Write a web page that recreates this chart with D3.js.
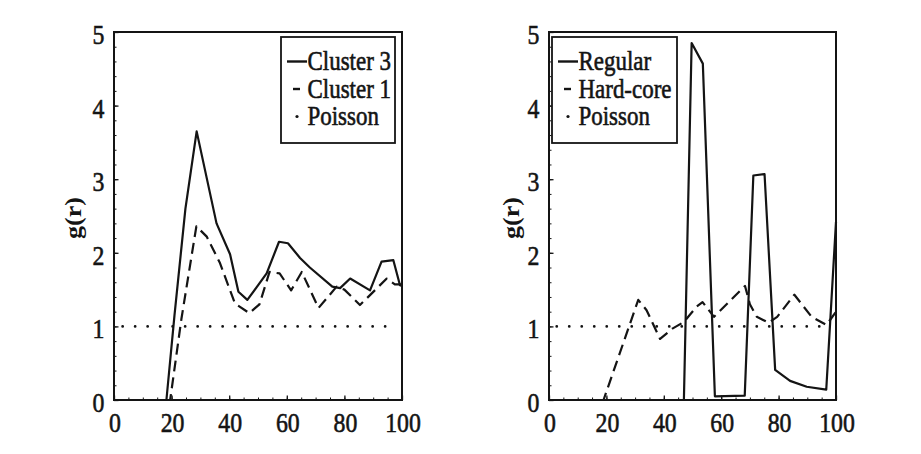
<!DOCTYPE html>
<html><head><meta charset="utf-8">
<script src="https://cdn.jsdelivr.net/npm/d3@7"></script>
<style>body{margin:0;background:#fff}svg{display:block}</style>
</head><body><svg id="c" width="921" height="454"></svg>
<script>
// ---- data ----
const xTicks = [0, 20, 40, 60, 80, 100];
const yTicks = [0, 1, 2, 3, 4, 5];

const cluster3R = [0, 18.2, 21, 24.8, 28.7, 35.6, 40.3, 43.2, 46.3, 53, 57.3, 60.4, 64.6, 68, 75.8, 78.5, 82, 88.9, 92.9, 97, 99.3, 100];
const cluster3G = [0, 0, 1.15, 2.6, 3.65, 2.4, 1.98, 1.47, 1.36, 1.72, 2.15, 2.13, 1.93, 1.8, 1.54, 1.52, 1.65, 1.49, 1.88, 1.9, 1.56, 1.55];

const cluster1R = [0, 19.5, 23.4, 28.6, 32.2, 36.8, 42, 47, 50.5, 54, 57.5, 61.5, 65.2, 71, 77.3, 80, 85.4, 94.7, 97.5, 100];
const cluster1G = [0, 0, 1.1, 2.36, 2.22, 1.86, 1.31, 1.18, 1.3, 1.74, 1.72, 1.49, 1.74, 1.25, 1.54, 1.5, 1.29, 1.65, 1.57, 1.57];

const poissonLeftR = [3, 97];
const poissonLeftG = [1, 1];

const regularR = [0, 47, 49.7, 53.6, 57.8, 68.2, 71.2, 75.1, 78.8, 84, 89.8, 96.6, 100];
const regularG = [0, 0, 4.85, 4.57, 0.05, 0.06, 3.05, 3.07, 0.41, 0.26, 0.18, 0.14, 2.42];

const hardcoreR = [0, 19, 31.1, 34, 38.7, 43, 47, 51.5, 53.5, 57.5, 68.3, 70, 72.4, 76.5, 79.5, 85.5, 91.5, 96.7, 100];
const hardcoreG = [0, 0, 1.36, 1.22, 0.83, 0.97, 1.06, 1.27, 1.33, 1.13, 1.55, 1.3, 1.13, 1.05, 1.13, 1.43, 1.13, 1.02, 1.2];

const poissonRightR = [2.7, 98];
const poissonRightG = [1, 1];

const leftLegend = ["Cluster 3", "Cluster 1", "Poisson"];
const rightLegend = ["Regular", "Hard-core", "Poisson"];
const yLabel = "g(r)";

// ---- drawing ----
const svg = d3.select("#c");
const INK = "#141414";
const FONT = "'Liberation Serif','Times New Roman',serif";
const SX = 0.85;

const styles = {
  solid: {w: 2.2, dash: null, cap: "butt"},
  dash: {w: 2.2, dash: "11,6", cap: "butt"},
  dot: {w: 2.8, dash: "0,12.5", cap: "round"}
};

const panels = [
  {x0: 114, x1: 402, labelX: 74, legendX: 281, legendW: 114,
   series: [[cluster3R, cluster3G, "solid"], [cluster1R, cluster1G, "dash"], [poissonLeftR, poissonLeftG, "dot"]],
   legend: leftLegend},
  {x0: 549, x1: 836, labelX: 512, legendX: 552, legendW: 125,
   series: [[regularR, regularG, "solid"], [hardcoreR, hardcoreG, "dash"], [poissonRightR, poissonRightG, "dot"]],
   legend: rightLegend}
];
const yTop = 32, yBot = 400;

panels.forEach(p => {
  const x = d3.scaleLinear().domain([0, 100]).range([p.x0, p.x1]);
  const y = d3.scaleLinear().domain([0, 5]).range([yBot, yTop]);
  const g = svg.append("g");

  // minor ticks
  g.append("g").attr("transform", `translate(${p.x0},0)`)
    .call(d3.axisLeft(y).tickValues(d3.range(0, 5.001, 0.2)).tickSize(-2.5).tickFormat(""))
    .call(s => { s.select(".domain").remove(); s.selectAll("line").attr("stroke", INK).attr("stroke-width", 1); });
  g.append("g").attr("transform", `translate(0,${yBot})`)
    .call(d3.axisBottom(x).tickValues(d3.range(0, 100.001, 5)).tickSize(-2.5).tickFormat(""))
    .call(s => { s.select(".domain").remove(); s.selectAll("line").attr("stroke", INK).attr("stroke-width", 1); });
  // major ticks
  g.append("g").attr("transform", `translate(${p.x0},0)`)
    .call(d3.axisLeft(y).tickValues(yTicks).tickSize(-4.5).tickFormat(""))
    .call(s => { s.select(".domain").remove(); s.selectAll("line").attr("stroke", INK).attr("stroke-width", 1.3); });
  g.append("g").attr("transform", `translate(0,${yBot})`)
    .call(d3.axisBottom(x).tickValues(xTicks).tickSize(-4.5).tickFormat(""))
    .call(s => { s.select(".domain").remove(); s.selectAll("line").attr("stroke", INK).attr("stroke-width", 1.3); });

  // tick labels
  const tl = {"font-family": FONT, "font-size": "28px", fill: INK, stroke: INK, "stroke-width": 0.6};
  yTicks.forEach(v => {
    const t = g.append("text").text(v).attr("text-anchor", "end")
      .attr("transform", `translate(${p.x0 - 9.5},${y(v) + 12}) scale(${SX},1)`);
    Object.entries(tl).forEach(([k, val]) => t.attr(k, val));
  });
  xTicks.forEach(v => {
    const t = g.append("text").text(v).attr("text-anchor", "middle")
      .attr("transform", `translate(${x(v) + 1},432) scale(${SX},1)`);
    Object.entries(tl).forEach(([k, val]) => t.attr(k, val));
  });

  // y label
  g.append("text").text(yLabel)
    .attr("transform", `translate(${p.labelX},218) rotate(-90) scale(1,${SX})`)
    .attr("text-anchor", "middle").attr("dy", "0.32em")
    .attr("font-family", FONT).attr("font-size", "26px").attr("font-weight", "bold").attr("fill", INK);

  // series
  const line = d3.line().x(d => x(d[0])).y(d => y(d[1]));
  p.series.forEach(([r, v, st]) => {
    const s = styles[st];
    g.append("path").datum(d3.zip(r, v)).attr("d", line)
      .attr("fill", "none").attr("stroke", INK).attr("stroke-width", s.w)
      .attr("stroke-dasharray", s.dash).attr("stroke-linecap", s.cap).attr("stroke-linejoin", "round");
  });

  // frame
  g.append("rect").attr("x", p.x0).attr("y", yTop).attr("width", p.x1 - p.x0).attr("height", yBot - yTop)
    .attr("fill", "none").attr("stroke", INK).attr("stroke-width", 2);

  // legend
  const lg = g.append("g").attr("transform", `translate(${p.legendX},37)`);
  lg.append("rect").attr("width", p.legendW).attr("height", 106)
    .attr("fill", "#fff").attr("stroke", INK).attr("stroke-width", 1.8);
  const types = ["solid", "dash", "dot"];
  p.legend.forEach((name, i) => {
    const by = 33 + i * 27.5;
    const sy = by - 8.5;
    if (types[i] === "solid") {
      lg.append("line").attr("x1", 6).attr("x2", 26).attr("y1", sy).attr("y2", sy)
        .attr("stroke", INK).attr("stroke-width", 2.4);
    } else if (types[i] === "dash") {
      lg.append("line").attr("x1", 12).attr("x2", 19).attr("y1", sy).attr("y2", sy)
        .attr("stroke", INK).attr("stroke-width", 2.4);
    } else {
      lg.append("circle").attr("cx", 16).attr("cy", sy).attr("r", 1.6).attr("fill", INK);
    }
    lg.append("text").text(name)
      .attr("transform", `translate(26.5,${by}) scale(${SX},1)`)
      .attr("font-family", FONT).attr("font-size", "27px").attr("fill", INK)
      .attr("stroke", INK).attr("stroke-width", 0.6);
  });
});
</script>
</body></html>
